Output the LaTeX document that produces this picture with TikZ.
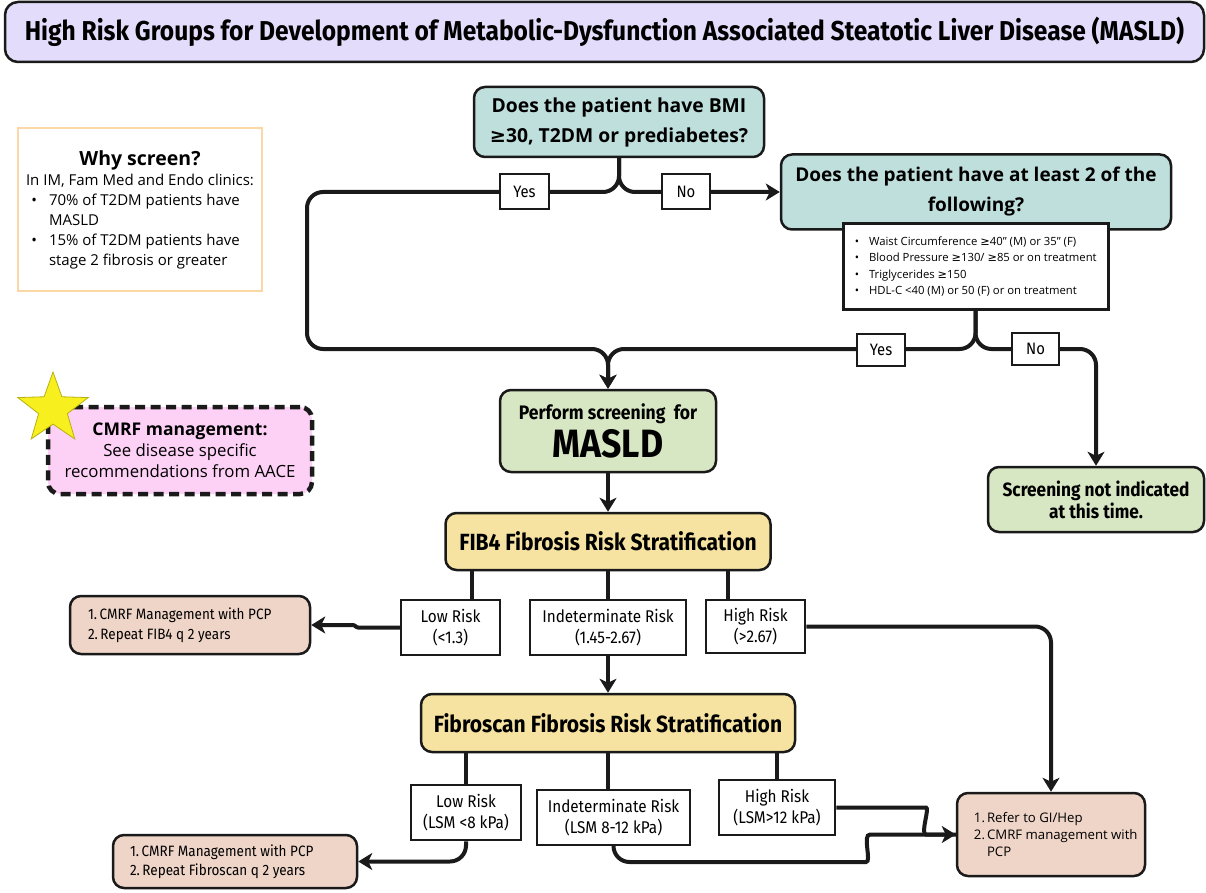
\documentclass[tikz,border=0pt]{standalone}
\usepackage{fontspec}
\setmainfont{Open Sans}
\newfontfamily\cond[FakeStretch=0.9]{Fira Sans}
\newfontfamily\symf{DejaVu Sans}
\newcommand\myge{{\symf ≥}}
\usetikzlibrary{arrows.meta,shapes.geometric,backgrounds}
\definecolor{linec}{HTML}{1A1A1A}
\definecolor{titlec}{HTML}{E3DDFB}
\definecolor{tealc}{HTML}{BEDFDC}
\definecolor{greenc}{HTML}{D8E7C3}
\definecolor{yellowc}{HTML}{F6E3A1}
\definecolor{salmonc}{HTML}{EFD5C8}
\definecolor{pinkc}{HTML}{FDD0F5}
\definecolor{orangec}{HTML}{FAD7A4}
\definecolor{starc}{HTML}{F7F01E}
\definecolor{stard}{HTML}{B8B010}
\begin{document}
\begin{tikzpicture}[x=1pt,y=-1pt,
  base/.style={draw=linec, line width=2.5pt, rounded corners=11pt, align=center, inner sep=0pt, text=black},
  lbl/.style={draw=linec, line width=2pt, fill=white, inner sep=0pt, align=center, font=\cond\fontsize{16.5}{18}\selectfont},
  riskbox/.style={draw=linec, line width=2.5pt, fill=white, inner sep=0pt, align=center, font=\cond\fontsize{17}{21}\selectfont},
  headbox/.style={base, fill=yellowc, font=\cond\bfseries\fontsize{23.4}{26}\selectfont},
  conn/.style={draw=linec, line width=4pt, rounded corners=16pt},
  arr/.style={conn, -{Stealth[length=14pt,width=17pt,inset=4pt]}}
]
\useasboundingbox (0,0) rectangle (1206,893);

% title
\node[base, fill=titlec, minimum width=1199pt, minimum height=60pt, rounded corners=13pt,
  font=\cond\bfseries\fontsize{27.3}{30}\selectfont] (title) at (604.5,32)
  {High Risk Groups for Development of Metabolic-Dysfunction Associated Steatotic Liver Disease (MASLD)};

% why screen
\node[draw=orangec, line width=2.5pt, fill=white, minimum width=244pt, minimum height=163pt, inner sep=0pt] (why) at (140,209.5)
 {\begin{minipage}{236pt}\centering
  {\bfseries\fontsize{19.5}{22}\selectfont Why screen?\par}
  \fontsize{15}{20}\selectfont In IM, Fam Med and Endo clinics:\par
  \raggedright
  \begin{list}{\textbullet}{\setlength\leftmargin{27pt}\setlength\labelwidth{10pt}\setlength\labelsep{12pt}\setlength\itemsep{0pt}\setlength\parsep{0pt}\setlength\topsep{0pt}\setlength\partopsep{0pt}}
  \item 70\% of T2DM patients have\newline MASLD
  \item 15\% of T2DM patients have\newline stage 2 fibrosis or greater
  \end{list}
 \end{minipage}};

% questions
\node[base, fill=tealc, minimum width=290pt, minimum height=70pt, font=\bfseries\fontsize{19.3}{30}\selectfont] (q1) at (619,122)
  {Does the patient have BMI\\\myge30, T2DM or prediabetes?};
\node[base, fill=tealc, minimum width=390pt, minimum height=75pt, font=\bfseries\fontsize{19}{30}\selectfont] (q2) at (976,192)
  {Does the patient have at least 2 of the\\following?};
\node[draw=linec, line width=3pt, fill=white, minimum width=265pt, minimum height=85pt, inner sep=0pt] (list) at (975.5,266.5)
 {\begin{minipage}{255pt}\fontsize{11.3}{16.3}\selectfont\raggedright
  \begin{list}{\textbullet}{\setlength\leftmargin{21pt}\setlength\labelwidth{8pt}\setlength\labelsep{10pt}\setlength\itemsep{0pt}\setlength\parsep{0pt}\setlength\topsep{0pt}\setlength\partopsep{0pt}}
  \item Waist Circumference \myge40” (M) or 35” (F)
  \item Blood Pressure \myge130/ \myge85 or on treatment
  \item Triglycerides \myge150
  \item HDL-C <40 (M) or 50 (F) or on treatment
  \end{list}
 \end{minipage}};

\node[lbl, minimum width=49pt, minimum height=35pt] (yes1) at (524.5,192) {Yes};
\node[lbl, minimum width=48pt, minimum height=35pt] (no1) at (686,192) {No};
\node[lbl, minimum width=48pt, minimum height=32pt] (yes2) at (881,350) {Yes};
\node[lbl, minimum width=47pt, minimum height=32pt] (no2) at (1035.5,349) {No};

% screening
\node[base, fill=greenc, minimum width=216pt, minimum height=82pt] (perform) at (608,431)
 {\parbox{210pt}{\centering\cond\bfseries{\fontsize{19.5}{20}\selectfont Perform screening\ \ for\par}{\fontsize{39.5}{38}\selectfont MASLD\par}}};
\node[base, fill=greenc, minimum width=216pt, minimum height=65pt, font=\cond\bfseries\fontsize{19.2}{22}\selectfont] (notind) at (1096,499.5)
 {Screening not indicated\\at this time.};

% FIB4
\node[headbox, minimum width=325pt, minimum height=57pt] (fib4) at (608,541.5) {FIB4 Fibrosis Risk Stratification};
\node[riskbox, minimum width=99pt, minimum height=55pt] (low1) at (450.5,627.5) {Low Risk\\(<1.3)};
\node[riskbox, minimum width=156pt, minimum height=55pt] (indet1) at (608,627.5) {Indeterminate Risk\\(1.45-2.67)};
\node[riskbox, minimum width=99pt, minimum height=53pt] (high1) at (755.5,626.5) {High Risk\\(>2.67)};
\node[base, fill=salmonc, minimum width=240pt, minimum height=58pt] (cmrf1) at (190,625)
 {\begin{minipage}{204pt}\raggedright\cond\fontsize{15}{20}\selectfont 1.\,CMRF Management with PCP\\2.\,Repeat FIB4 q 2 years\end{minipage}};

% Fibroscan
\node[headbox, minimum width=374pt, minimum height=58pt] (fibro) at (608,723) {Fibroscan Fibrosis Risk Stratification};
\node[riskbox, minimum width=110pt, minimum height=55pt] (low2) at (466,812.5) {Low Risk\\(LSM <8 kPa)};
\node[riskbox, minimum width=153pt, minimum height=55pt] (indet2) at (613.5,817.5) {Indeterminate Risk\\(LSM 8-12 kPa)};
\node[riskbox, minimum width=116pt, minimum height=55pt] (high2) at (777,807.5) {High Risk\\(LSM>12 kPa)};
\node[base, fill=salmonc, minimum width=244pt, minimum height=53pt] (cmrf2) at (235,861.5)
 {\begin{minipage}{210pt}\raggedright\cond\fontsize{15}{19}\selectfont 1.\,CMRF Management with PCP\\2.\,Repeat Fibroscan q 2 years\end{minipage}};
\node[base, fill=salmonc, minimum width=188pt, minimum height=83pt] (refer) at (1051,834.5)
 {\hspace{12pt}\begin{minipage}{170pt}\raggedright\fontsize{13.2}{17}\selectfont
  \begin{list}{}{\setlength\leftmargin{15pt}\setlength\labelwidth{13pt}\setlength\labelsep{2pt}\setlength\itemsep{0pt}\setlength\parsep{0pt}\setlength\topsep{0pt}\setlength\partopsep{0pt}}
  \item[1.] Refer to GI/Hep
  \item[2.] CMRF management with\newline PCP
  \end{list}\end{minipage}};

% CMRF management note
\node[base, fill=pinkc, dash pattern=on 10pt off 5.5pt, line width=4.5pt, rounded corners=12pt, minimum width=264pt, minimum height=87pt,
  font=\fontsize{16.8}{21}\selectfont] (note) at (180,450.5)
 {{\bfseries\fontsize{17.5}{21}\selectfont CMRF management:}\\See disease specific\\recommendations from AACE};
\node[star, star points=5, star point ratio=2.45, minimum size=74pt, inner sep=0pt, fill=starc, draw=stard, line width=0.8pt] (star) at (53,409) {};

\coordinate (f4l) at (472,0);
\coordinate (f4h) at (728,0);

\begin{scope}[on background layer]
\draw[arr] (q1.south) |- (307,192) |- (608,349) -- (perform.north);
\draw[arr] (q1.south) |- (q2.west);
\draw[arr] (list.south) |- (608,349) -- (perform.north);
\draw[arr] (list.south) |- (1096,349) -- (notind.north);
\draw[arr] (perform.south) -- (fib4.north);
\draw[conn] (fib4.south -| f4l) -- (f4l |- low1.north);
\draw[conn] (fib4.south) -- (indet1.north);
\draw[conn] (fib4.south -| f4h) -- (f4h |- high1.north);
\draw[arr, rounded corners=1pt] (low1.west) -- (357,627.5) -- (354,625) -- (cmrf1.east);
\draw[arr] (high1.east) -| (refer.north);
\draw[arr] (indet1.south) -- (fibro.north);
\draw[conn] (fibro.south -| low2.north) -- (low2.north);
\draw[conn] (fibro.south) -- (fibro.south |- indet2.north);
\draw[conn] (fibro.south -| high2.north) -- (high2.north);
\draw[arr] (low2.south) |- (cmrf2.east);
\draw[arr] (indet2.south) |- (850,862) .. controls (872,862) and (862,834.5) .. (886,834.5) -- (refer.west);
\draw[arr] (high2.east) -- (910,807.5) .. controls (930,807.5) and (920,834.5) .. (942,834.5) -- (refer.west);
\end{scope}
\end{tikzpicture}
\end{document}
